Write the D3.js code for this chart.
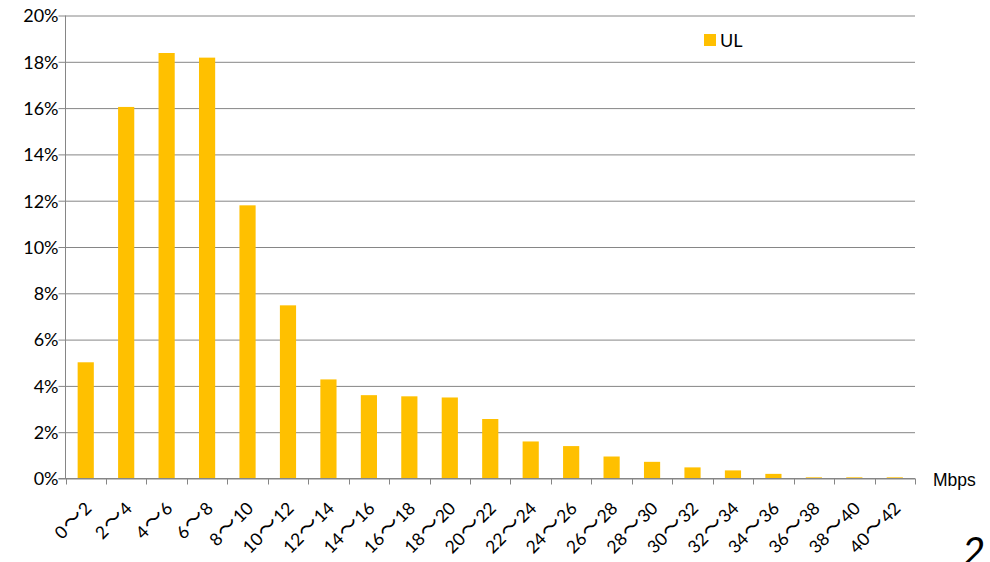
<!DOCTYPE html>
<html><head><meta charset="utf-8">
<script src="https://cdn.jsdelivr.net/npm/d3@7"></script>
<style>body{margin:0;background:#fff}svg{display:block}</style>
</head><body><svg id="c" width="990" height="562"></svg>
<script>
const categories = ["0～2","2～4","4～6","6～8","8～10","10～12","12～14","14～16","16～18","18～20","20～22","22～24","24～26","26～28","28～30","30～32","32～34","34～36","36～38","38～40","40～42"];
const ulValues = [5.02,16.05,18.38,18.18,11.8,7.48,4.28,3.6,3.55,3.5,2.57,1.6,1.4,0.95,0.72,0.48,0.35,0.2,0.05,0.05,0.05];
const yTicks = [0,2,4,6,8,10,12,14,16,18,20];
const seriesName = "UL";
const unitLabel = "Mbps";
const pageNumber = "2";

const svg = d3.select("#c");
const L = 65.5, R = 915, T = 15.5, B = 478.5;
const font = "Lato, 'Noto Sans', sans-serif";
const cjk = "'Noto Sans CJK JP', 'Noto Sans CJK SC', sans-serif";
const grid = "#868686";

const x = d3.scaleBand().domain(categories).range([L, R]).paddingInner(0.6).paddingOuter(0.3);
const y = d3.scaleLinear().domain([0, 20]).range([B, T]);

// gridlines + y ticks
const yAxis = d3.axisLeft(y).tickValues(yTicks).tickSize(-(R - L)).tickSizeOuter(0).tickFormat(d => d + "%").tickPadding(14);
const gy = svg.append("g").attr("transform", `translate(${L},0)`).call(yAxis);
gy.select(".domain").remove();
gy.selectAll(".tick line").attr("stroke", grid).attr("x1", -7).attr("stroke-width", 1);
gy.selectAll(".tick text").attr("font-family", font).attr("font-size", 18).attr("fill", "#000").attr("dx", 7).attr("dy", "0.35em").attr("y", 0);

// bars
svg.append("g").selectAll("rect").data(ulValues).join("rect")
  .attr("x", (d, i) => x(categories[i]))
  .attr("width", x.bandwidth())
  .attr("y", d => y(d))
  .attr("height", d => y(0) - y(d))
  .attr("fill", "#FFC000");

// axis lines
svg.append("line").attr("x1", L).attr("x2", L).attr("y1", T).attr("y2", B).attr("stroke", grid);
svg.append("line").attr("x1", L - 7).attr("x2", R).attr("y1", B).attr("y2", B).attr("stroke", grid);

// x ticks at category boundaries
const step = x.step(), gap = (step - x.bandwidth()) / 2;
const bounds = categories.map(c => x(c) - gap).concat([x(categories[categories.length - 1]) + x.bandwidth() + gap]);
svg.append("g").selectAll("line").data(bounds).join("line")
  .attr("x1", d => Math.round(d) + 0.5).attr("x2", d => Math.round(d) + 0.5)
  .attr("y1", B).attr("y2", B + 6).attr("stroke", grid);

// x labels (tilde drawn with CJK font as full-width)
const xl = svg.append("g").selectAll("text").data(categories).join("text")
  .attr("transform", c => `translate(${x(c) + x.bandwidth() / 2 + 7},${B + 31}) rotate(-45)`)
  .attr("text-anchor", "end")
  .attr("font-family", font).attr("font-size", 17.5).attr("fill", "#000");
xl.each(function(c) {
  const parts = c.split("～");
  const t = d3.select(this);
  t.append("tspan").text(parts[0]);
  t.append("tspan").attr("font-family", cjk).attr("font-size", 21).attr("dx", 1).text("～");
  t.append("tspan").attr("font-family", font).attr("font-size", 17.5).attr("dx", 1).text(parts[1]);
});

// unit label
svg.append("text").attr("x", 933).attr("y", 486).attr("font-family", "'Liberation Sans', Arial, sans-serif")
  .attr("font-size", 17.5).attr("fill", "#000").text(unitLabel);

// legend
svg.append("rect").attr("x", 704).attr("y", 34).attr("width", 12).attr("height", 12).attr("fill", "#FFC000");
svg.append("text").attr("x", 720).attr("y", 46.5).attr("font-family", font).attr("font-size", 18).attr("fill", "#000").text(seriesName);

// page number
svg.append("text").attr("x", 962).attr("y", 566).attr("font-family", font).attr("font-size", 40).attr("font-style", "italic").attr("fill", "#000").text(pageNumber);
</script></body></html>
